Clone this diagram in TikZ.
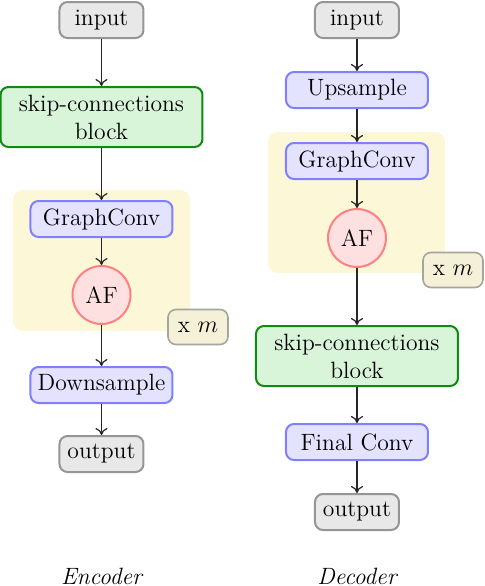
\documentclass[tikz,border=0pt]{standalone}
\usetikzlibrary{arrows.meta,backgrounds}
\definecolor{iofill}{HTML}{E8E8E8}
\definecolor{iodraw}{HTML}{959595}
\definecolor{skfill}{HTML}{D9F5D9}
\definecolor{skdraw}{HTML}{108A10}
\definecolor{opfill}{HTML}{E3E3FF}
\definecolor{opdraw}{HTML}{8080FF}
\definecolor{affill}{HTML}{FFE0E0}
\definecolor{afdraw}{HTML}{FF8080}
\definecolor{bgfill}{HTML}{FCF7D6}
\definecolor{xmfill}{HTML}{F4F1D8}
\definecolor{xmdraw}{HTML}{A5A59C}
\tikzset{
  every node/.style={font=\fontsize{11.8}{14}\selectfont, inner sep=0pt},
  iobox/.style={draw=iodraw, fill=iofill, line width=1pt, rounded corners=4pt, minimum width=42pt, minimum height=18pt},
  skbox/.style={draw=skdraw, fill=skfill, line width=1pt, rounded corners=4pt, minimum width=101pt, minimum height=30pt, align=center},
  opbox/.style={draw=opdraw, fill=opfill, line width=1pt, rounded corners=4pt, minimum width=71pt, minimum height=18pt},
  afnode/.style={circle, draw=afdraw, fill=affill, line width=1pt, minimum size=29pt},
  xmbox/.style={draw=xmdraw, fill=xmfill, line width=0.8pt, rounded corners=4pt, minimum width=30pt, minimum height=17.5pt},
  bgbox/.style={fill=bgfill, rounded corners=5pt},
  conn/.style={-{To[length=3.5pt,width=6pt]}, line width=0.6pt, draw=black!85},
  caption/.style={font=\fontsize{11.8}{14}\selectfont\itshape}
}
\begin{document}
\begin{tikzpicture}[x=0.5pt,y=-0.5pt]
\useasboundingbox (0,0) rectangle (484,586);
% backgrounds
\fill[bgbox] (13,190) rectangle (190,331);
\fill[bgbox] (268,132) rectangle (445,273);
% Encoder
\node[iobox] (ein) at (101.5,20) {input};
\node[skbox] (esk) at (101.5,117) {skip-connections\\block};
\node[opbox] (egc) at (101.5,219) {GraphConv};
\node[afnode] (eaf) at (101.5,295) {AF};
\node[xmbox] (exm) at (198,327) {x $m$};
\node[opbox] (eds) at (101.5,385) {Downsample};
\node[iobox] (eout) at (101.5,454) {output};
\node[caption] (ecap) at (101.5,576) {Encoder};
\draw[conn] (ein) -- (esk);
\draw[conn] (esk) -- (egc);
\draw[conn] (egc) -- (eaf);
\draw[conn] (eaf) -- (eds);
\draw[conn] (eds) -- (eout);
% Decoder
\node[iobox] (din) at (357,20) {input};
\node[opbox] (dup) at (357,90) {Upsample};
\node[opbox] (dgc) at (357,161) {GraphConv};
\node[afnode] (daf) at (357,238) {AF};
\node[xmbox] (dxm) at (453,270) {x $m$};
\node[skbox] (dsk) at (357,356) {skip-connections\\block};
\node[opbox] (dfc) at (357,442) {Final Conv};
\node[iobox] (dout) at (357,512) {output};
\node[caption] (dcap) at (357,576) {Decoder};
\draw[conn] (din) -- (dup);
\draw[conn] (dup) -- (dgc);
\draw[conn] (dgc) -- (daf);
\draw[conn] (daf) -- (dsk);
\draw[conn] (dsk) -- (dfc);
\draw[conn] (dfc) -- (dout);
\end{tikzpicture}
\end{document}
